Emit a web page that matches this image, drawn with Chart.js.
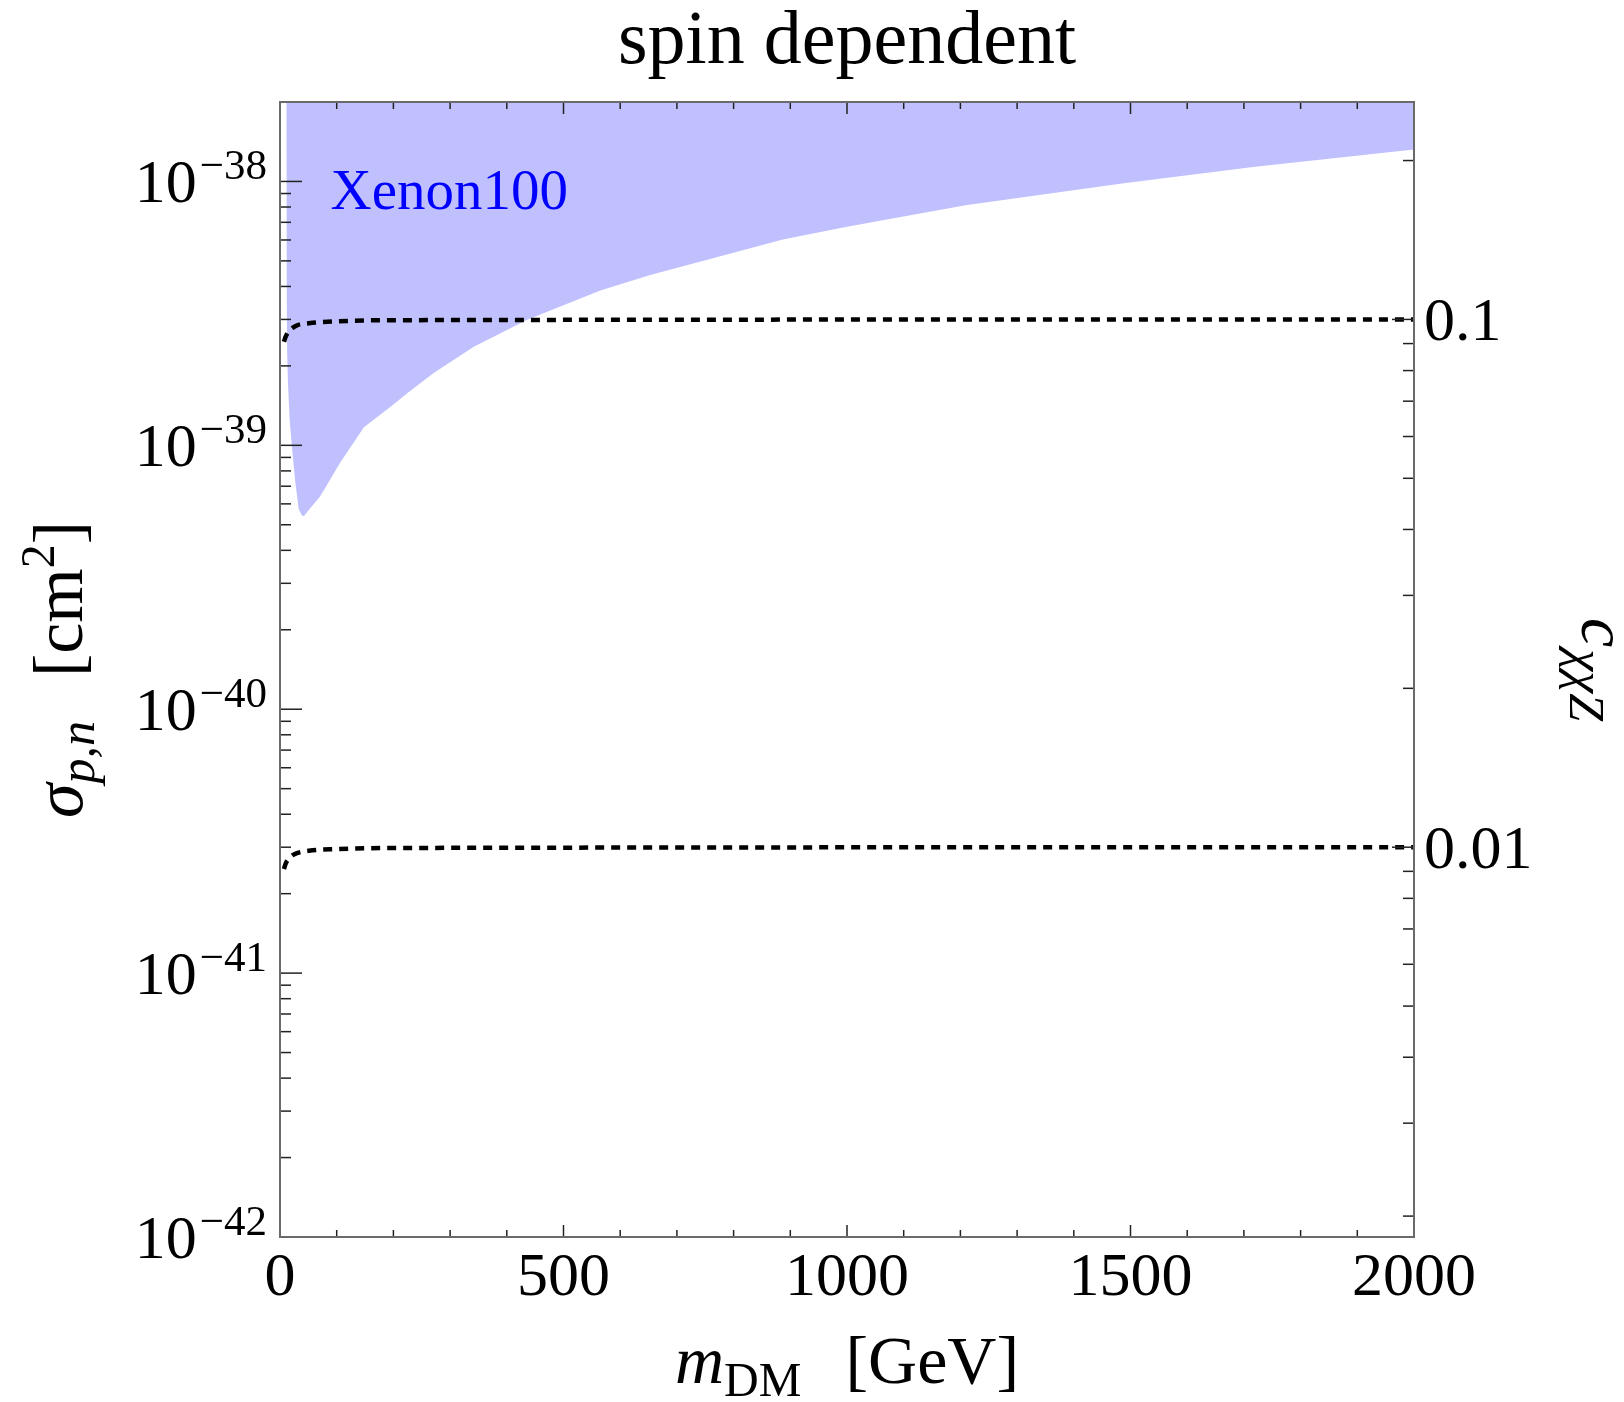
<!DOCTYPE html>
<html>
<head>
<meta charset="utf-8">
<script src="https://cdn.jsdelivr.net/npm/chart.js@4.4.0/dist/chart.umd.min.js"></script>
<style>
  html, body { margin: 0; padding: 0; background: #fff; }
  #wrap { width: 1624px; height: 1402px; }
</style>
</head>
<body>
<div id="wrap"><canvas id="chart" width="1624" height="1402"></canvas></div>
<script>
// axis ticks
const massTicks = [0, 500, 1000, 1500, 2000];
const massMinorStep = 100;
const sigmaDecades = [1e-42, 1e-41, 1e-40, 1e-39, 1e-38];
const sigmaLabels = ['\u221242', '\u221241', '\u221240', '\u221239', '\u221238'];
const couplingMajor = [0.01, 0.1];
const couplingLabels = ['0.01', '0.1'];
const couplingMinor = [0.002, 0.003, 0.004, 0.005, 0.006, 0.007, 0.008, 0.009,
                       0.02, 0.03, 0.04, 0.05, 0.06, 0.07, 0.08, 0.09, 0.2];

// Xenon100 excluded region (lower boundary)
const xenonMass = [11, 11.5, 12, 12.5, 14, 17, 21.5, 27, 33, 38, 42, 50, 71, 106, 148, 195,
                   225, 271, 341, 436, 565, 653, 887, 1000, 1209, 1485, 1716, 2000];
const xenonSigma = [3e-38, 1e-38, 4e-39, 2.3e-39, 1.73e-39, 1.25e-39, 9.6e-40, 7.24e-40, 5.74e-40,
                    5.45e-40, 5.38e-40, 5.66e-40, 6.41e-40, 8.59e-40, 1.17e-39, 1.40e-39,
                    1.58e-39, 1.88e-39, 2.36e-39, 2.99e-39, 3.86e-39, 4.42e-39, 6.03e-39,
                    6.73e-39, 8.13e-39, 9.83e-39, 1.135e-38, 1.32e-38];

// c_chichiZ = 0.1 and 0.01 contours
const lineMass = [7, 10, 15, 21.5, 30, 51, 100, 200, 2000];
const sigmaC01 = [2.47e-39, 2.58e-39, 2.7e-39, 2.78e-39, 2.85e-39, 2.9e-39, 2.95e-39, 2.98e-39, 3.0e-39];
const sigmaC001 = [2.48e-41, 2.6e-41, 2.7e-41, 2.79e-41, 2.85e-41, 2.91e-41, 2.95e-41, 2.98e-41, 3.0e-41];

const sigmaMin = 1e-42, sigmaMax = 2e-38;
const sigmaPerC2 = 3e-37;   // right axis: sigma = k * c^2
const cMin = Math.sqrt(sigmaMin / sigmaPerC2);
const cMax = Math.sqrt(sigmaMax / sigmaPerC2);

const SERIF = '"Liberation Serif", "Times New Roman", serif';

function pts(xs, ys) {
    return xs.map((x, i) => ({ x: x, y: ys[i] }));
}

function drawRich(ctx, parts, x, y, angle, align) {
    ctx.save();
    ctx.translate(x, y);
    ctx.rotate(angle);
    let total = 0;
    parts.forEach(p => {
        ctx.font = p.font;
        p.w = ctx.measureText(p.text).width;
        total += p.w + (p.gap || 0);
    });
    let cx = align === 'center' ? -total / 2 : (align === 'right' ? -total : 0);
    ctx.textAlign = 'left';
    ctx.textBaseline = 'alphabetic';
    parts.forEach(p => {
        ctx.font = p.font;
        ctx.fillStyle = p.color || '#000';
        ctx.fillText(p.text, cx, p.dy || 0);
        cx += p.w + (p.gap || 0);
    });
    ctx.restore();
}

function tick(ctx, x1, y1, x2, y2) {
    ctx.beginPath();
    ctx.moveTo(x1, y1);
    ctx.lineTo(x2, y2);
    ctx.stroke();
}

const framePlugin = {
    id: 'frame',
    afterDatasetsDraw(chart) {
        const ctx = chart.ctx;
        const a = chart.chartArea;
        const xs = chart.scales.x, ys = chart.scales.y, cs = chart.scales.y2;

        ctx.save();
        // ticks
        ctx.strokeStyle = '#222';
        ctx.lineWidth = 1.5;
        for (let m = 0; m <= 2000; m += massMinorStep) {
            const px = xs.getPixelForValue(m);
            const len = massTicks.includes(m) ? 12 : 7;
            tick(ctx, px, a.bottom, px, a.bottom - len);
            tick(ctx, px, a.top, px, a.top + len);
        }
        sigmaDecades.forEach(d => {
            for (let k = 1; k <= 9; k++) {
                const v = d * k;
                if (v > sigmaMax) continue;
                const py = ys.getPixelForValue(v);
                tick(ctx, a.left, py, a.left + (k === 1 ? 22 : 11), py);
            }
        });
        couplingMajor.forEach(c => {
            const py = cs.getPixelForValue(c);
            tick(ctx, a.right, py, a.right - 22, py);
        });
        couplingMinor.forEach(c => {
            const py = cs.getPixelForValue(c);
            tick(ctx, a.right, py, a.right - 11, py);
        });

        // frame
        ctx.strokeStyle = '#6a6a6a';
        ctx.lineWidth = 2;
        ctx.strokeRect(a.left, a.top, a.right - a.left, a.bottom - a.top);
        ctx.restore();

        // tick labels
        const big = '62px ' + SERIF, sup = '43px ' + SERIF;
        ctx.save();
        ctx.fillStyle = '#000';
        ctx.font = big;
        ctx.textAlign = 'center';
        ctx.textBaseline = 'alphabetic';
        massTicks.forEach(m => {
            ctx.fillText(String(m), xs.getPixelForValue(m), a.bottom + 58);
        });
        ctx.restore();

        sigmaDecades.forEach((d, i) => {
            const py = ys.getPixelForValue(d);
            drawRich(ctx, [
                { text: '10', font: big, gap: 3 },
                { text: sigmaLabels[i], font: sup, dy: -23.5 }
            ], a.left - 13, py + 21, 0, 'right');
        });

        couplingMajor.forEach((c, i) => {
            const py = cs.getPixelForValue(c);
            drawRich(ctx, [{ text: couplingLabels[i], font: big }], a.right + 10, py + 21, 0, 'left');
        });

        const midX = (a.left + a.right) / 2, midY = (a.top + a.bottom) / 2;

        // title
        drawRich(ctx, [{ text: 'spin dependent', font: '76px ' + SERIF }], midX, 63, 0, 'center');

        // Xenon100 label
        drawRich(ctx, [{ text: 'Xenon100', font: '57px ' + SERIF, color: '#0000ff' }],
                 xs.getPixelForValue(89), 209, 0, 'left');

        // x axis title
        drawRich(ctx, [
            { text: 'm', font: 'italic 68px ' + SERIF },
            { text: 'DM', font: '48px ' + SERIF, dy: 13, gap: 44 },
            { text: '[GeV]', font: '68px ' + SERIF }
        ], midX, 1383, 0, 'center');

        // left axis title
        drawRich(ctx, [
            { text: '\u03c3', font: 'italic 70px ' + SERIF },
            { text: 'p,n', font: 'italic 50px ' + SERIF, dy: 12, gap: 44 },
            { text: '[cm', font: '70px ' + SERIF },
            { text: '2', font: '48px ' + SERIF, dy: -28 },
            { text: ']', font: '70px ' + SERIF }
        ], 82, midY, -Math.PI / 2, 'center');

        // right axis title
        drawRich(ctx, [
            { text: 'c', font: 'italic 66px ' + SERIF, gap: 2 },
            { text: '\u03c7\u03c7Z', font: 'italic 50px ' + SERIF, dy: 12 }
        ], 1582, midY, Math.PI / 2, 'center');
    }
};

const ctx = document.getElementById('chart').getContext('2d');
new Chart(ctx, {
    type: 'line',
    data: {
        datasets: [
            {
                data: pts(xenonMass, xenonSigma),
                fill: 'end',
                backgroundColor: '#c0c0ff',
                borderColor: 'rgba(0,0,0,0)',
                borderWidth: 0,
                pointRadius: 0,
                tension: 0
            },
            {
                data: pts(lineMass, sigmaC01),
                fill: false,
                borderColor: '#000',
                borderWidth: 4.5,
                borderDash: [9, 7],
                pointRadius: 0,
                cubicInterpolationMode: 'monotone'
            },
            {
                data: pts(lineMass, sigmaC001),
                fill: false,
                borderColor: '#000',
                borderWidth: 4.5,
                borderDash: [9, 7],
                pointRadius: 0,
                cubicInterpolationMode: 'monotone'
            }
        ]
    },
    options: {
        responsive: false,
        animation: false,
        layout: { padding: { left: 280, top: 102, right: 210, bottom: 165 } },
        scales: {
            x: { type: 'linear', min: 0, max: 2000, display: false },
            y: { type: 'logarithmic', min: sigmaMin, max: sigmaMax, display: false },
            y2: { type: 'logarithmic', position: 'right', min: cMin, max: cMax, display: false }
        },
        plugins: {
            filler: { drawTime: 'beforeDatasetsDraw' },
            legend: { display: false },
            tooltip: { enabled: false }
        }
    },
    plugins: [framePlugin]
});
</script>
</body>
</html>
